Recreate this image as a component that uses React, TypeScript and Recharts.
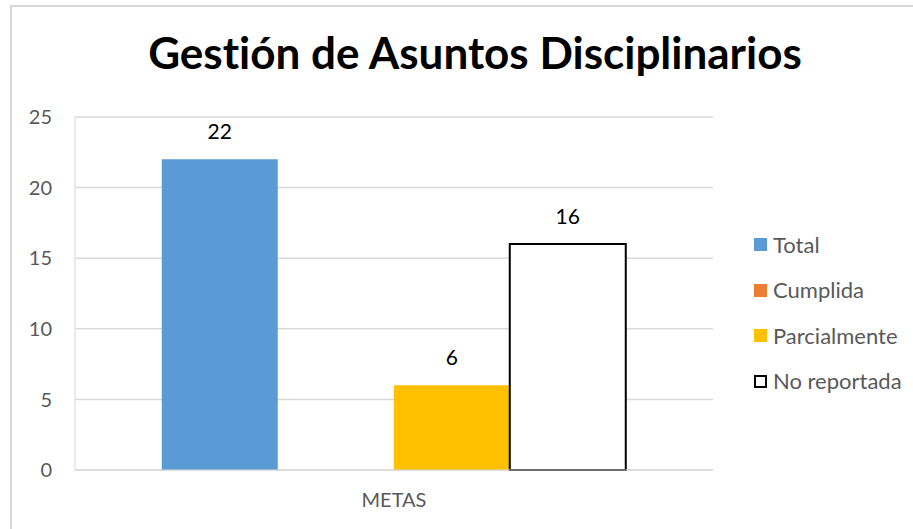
import { BarChart, Bar, XAxis, YAxis, CartesianGrid, LabelList } from 'recharts'

const categories = ['METAS']
const totalValues = [22]
const cumplidaValues = [0]
const parcialmenteValues = [6]
const noReportadaValues = [16]
const yTicks = [0, 5, 10, 15, 20, 25]

const series = [
  { key: 'Total', fill: '#5B9BD5', stroke: 'none' },
  { key: 'Cumplida', fill: '#ED7D31', stroke: 'none' },
  { key: 'Parcialmente', fill: '#FFC000', stroke: 'none' },
  { key: 'No reportada', fill: '#FFFFFF', stroke: '#000000' },
]

const data = categories.map((name, i) => ({
  name,
  Total: totalValues[i],
  Cumplida: cumplidaValues[i],
  Parcialmente: parcialmenteValues[i],
  'No reportada': noReportadaValues[i],
}))

const FONT = 'Lato, "Open Sans", sans-serif'
const GREY = '#595959'

// Excel hides the zero label, so skip it
const renderValue = (props: any) => {
  const { x, y, width, value } = props
  if (!value) return null
  return (
    <text
      x={Number(x) + Number(width) / 2}
      y={Number(y) - 20}
      textAnchor="middle"
      fontSize={21}
      fontFamily={FONT}
      fill="#000"
    >
      {value}
    </text>
  )
}

export default function App() {
  return (
    <div
      style={{
        position: 'absolute',
        left: 0,
        top: 0,
        width: 913,
        height: 529,
        background: '#fff',
        fontFamily: FONT,
        fontVariantLigatures: 'none',
      }}
    >
      <div
        style={{
          position: 'absolute',
          left: 10,
          top: 5,
          right: 0,
          bottom: 0,
          borderLeft: '2px solid #d9d9d9',
          borderTop: '2px solid #d9d9d9',
        }}
      />
      <div
        style={{
          position: 'absolute',
          left: 0,
          width: 950,
          top: 26,
          textAlign: 'center',
          fontSize: 44,
          lineHeight: 1.2,
          fontWeight: 700,
          color: '#000',
          whiteSpace: 'nowrap',
        }}
      >
        Gestión de Asuntos Disciplinarios
      </div>
      <BarChart
        width={913}
        height={529}
        data={data}
        margin={{ top: 117, right: 200, bottom: 0, left: 0 }}
        barCategoryGap="13.6%"
        barGap={0}
        style={{ position: 'absolute', left: 0, top: 0 }}
      >
        <CartesianGrid vertical={false} stroke="#d9d9d9" strokeWidth={1.5} />
        <XAxis
          dataKey="name"
          height={59}
          tickSize={0}
          tickMargin={23}
          stroke="#d9d9d9"
          tick={{ fill: GREY, fontSize: 20, fontFamily: FONT }}
        />
        <YAxis
          width={75}
          domain={[0, 25]}
          ticks={yTicks}
          tickSize={0}
          tickMargin={23}
          stroke="#d9d9d9"
          tick={{ fill: GREY, fontSize: 20, fontFamily: FONT }}
        />
        {series.map((s) => (
          <Bar
            key={s.key}
            dataKey={s.key}
            fill={s.fill}
            stroke={s.stroke}
            strokeWidth={s.stroke === 'none' ? 0 : 2}
            isAnimationActive={false}
          >
            <LabelList dataKey={s.key} content={renderValue} />
          </Bar>
        ))}
      </BarChart>
      <div style={{ position: 'absolute', left: 754, top: 222 }}>
        {series.map((s) => (
          <div
            key={s.key}
            style={{
              display: 'flex',
              alignItems: 'center',
              height: 45.5,
              fontSize: 22,
              lineHeight: 1.2,
              color: GREY,
            }}
          >
            <span
              style={{
                display: 'inline-block',
                boxSizing: 'border-box',
                width: 13,
                height: 13,
                background: s.fill,
                border: s.stroke === 'none' ? 'none' : '2px solid #000',
                marginRight: 6,
              }}
            />
            <span>{s.key}</span>
          </div>
        ))}
      </div>
    </div>
  )
}
